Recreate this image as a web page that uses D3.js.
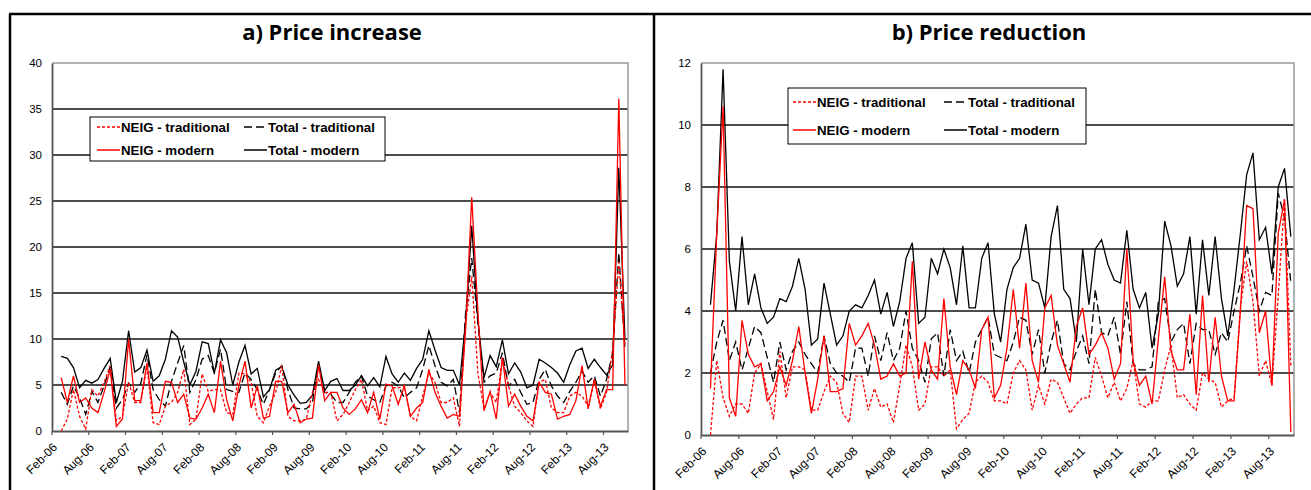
<!DOCTYPE html>
<html><head><meta charset="utf-8">
<script src="https://cdn.jsdelivr.net/npm/d3@7"></script>
<style>
html,body{margin:0;padding:0;background:#fff;}
svg{display:block;}
</style></head>
<body>
<svg id="chart" width="1311" height="490"></svg>
<script>
// ---- Data ----
const startMonth = new Date(2006, 1, 1);   // Feb-06
const endMonth = new Date(2013, 10, 1);    // Nov-13
const categories = d3.timeMonth.range(startMonth, d3.timeMonth.offset(endMonth, 1)).map(d3.timeFormat("%b-%y"));
const tickLabels = ["Feb-06","Aug-06","Feb-07","Aug-07","Feb-08","Aug-08","Feb-09","Aug-09","Feb-10","Aug-10","Feb-11","Aug-11","Feb-12","Aug-12","Feb-13","Aug-13"];
const seriesNames = ["NEIG - traditional","Total - traditional","NEIG - modern","Total - modern"];
const incTicks = [0,5,10,15,20,25,30,35,40];
const redTicks = [0,2,4,6,8,10,12];

// a) Price increase (first month, Feb-06, has no value)
const incNeigTrad = [null,0.0,1.3,4.5,1.6,0.2,4.5,3.8,5.3,7.1,1.1,1.6,5.3,3.1,3.1,7.1,0.9,0.7,2.7,3.1,4.2,6.7,0.7,1.3,6.2,4.3,4.5,4.5,2.0,1.8,6.3,6.2,5.3,1.6,0.9,2.7,4.2,7.1,1.6,1.1,1.1,1.3,4.2,5.6,4.2,4.2,1.1,1.8,3.1,4.5,5.6,2.2,2.7,0.9,0.7,4.7,4.7,4.9,1.6,1.1,3.8,6.3,5.3,3.1,3.1,3.6,0.5,11.8,16.8,6.3,2.4,4.2,3.1,7.8,4.9,2.7,2.0,1.1,0.5,5.3,5.6,2.5,2.0,2.0,3.8,4.2,3.8,2.7,5.6,2.4,4.2,8.9,18.3,9.2];
const incTotalTrad = [null,4.2,2.9,4.9,3.6,1.8,4.3,3.1,4.9,7.0,2.5,3.4,5.2,4.2,5.2,8.3,4.5,3.4,2.7,5.4,7.4,9.3,4.2,5.6,7.8,8.2,6.3,8.9,4.5,4.3,4.2,6.3,5.6,4.5,2.9,4.5,6.3,7.1,4.5,2.5,2.4,2.4,3.1,7.2,4.2,4.0,3.1,3.1,4.2,5.3,6.0,3.8,3.4,3.1,4.9,5.3,4.9,3.6,4.2,4.7,6.7,9.3,7.1,5.3,4.9,5.6,2.0,12.9,18.8,11.8,5.3,6.0,6.3,8.5,4.9,5.6,4.2,2.9,3.1,5.6,6.7,4.9,3.8,3.1,4.3,5.3,6.5,5.3,6.0,3.8,5.6,8.5,19.4,8.9];
const incNeigModern = [null,5.8,3.1,6.0,3.1,3.6,2.5,2.0,4.2,6.7,0.5,1.3,10.0,3.3,3.3,7.4,2.0,2.0,5.4,5.3,3.1,4.0,1.4,1.3,2.5,4.0,2.0,7.6,3.4,1.1,4.9,7.6,2.5,4.9,1.4,1.6,5.4,5.4,2.0,2.9,0.9,1.3,1.4,7.2,3.3,4.2,4.2,2.5,1.8,2.4,3.4,2.0,4.2,1.3,5.1,4.9,2.9,4.9,1.6,2.5,3.1,6.7,4.2,2.7,1.4,1.8,1.6,11.0,25.4,13.0,2.2,4.3,1.3,8.0,2.7,4.0,2.7,1.6,1.1,5.3,4.2,4.0,1.3,1.6,1.8,3.3,7.1,2.4,5.6,2.7,4.5,4.5,36.1,5.0];
const incTotalModern = [null,8.1,7.9,6.9,4.7,5.5,5.2,5.6,6.8,7.9,3.1,5.4,10.9,6.4,6.9,8.8,5.4,6.0,7.8,10.9,10.2,7.5,5.0,6.5,9.7,9.5,6.3,9.9,8.5,5.0,7.5,9.3,6.2,6.8,3.7,4.5,6.6,7.0,5.0,3.9,3.0,3.1,3.9,7.6,4.4,5.4,5.7,4.4,4.4,5.0,6.0,4.9,5.8,4.8,8.1,6.2,5.3,6.3,5.5,6.8,7.8,10.9,8.8,6.9,6.6,6.6,5.0,12.0,22.3,12.0,5.8,8.2,7.0,9.9,6.2,7.4,6.4,4.7,5.0,7.8,7.4,6.9,6.3,5.3,7.2,8.7,9.0,6.8,7.8,6.9,6.1,7.2,28.6,10.0];

// b) Price reduction
const redNeigTrad = [null,0.0,2.4,1.2,0.6,1.0,1.0,0.7,2.0,2.3,1.4,0.5,2.7,1.2,2.2,2.2,2.1,0.8,0.8,1.4,1.9,1.7,0.7,0.4,1.9,1.9,0.8,1.5,0.9,1.0,0.4,1.6,2.9,2.2,0.8,1.0,2.2,2.2,1.9,2.1,0.2,0.5,0.7,1.7,1.9,1.7,1.1,1.1,1.0,2.0,2.4,2.1,0.8,1.6,1.0,1.8,1.7,1.2,0.7,1.0,1.2,1.2,2.5,1.9,1.2,1.7,1.1,1.5,2.4,1.0,0.9,1.1,1.1,2.1,2.9,1.2,1.3,1.0,0.8,2.0,1.8,1.7,0.9,1.1,1.2,4.1,5.6,4.3,1.9,2.4,1.6,4.5,7.6,2.2];
const redTotalTrad = [null,2.0,3.0,3.7,2.4,3.0,2.1,2.8,3.5,3.3,2.5,1.7,3.0,2.1,2.7,3.0,2.6,2.3,2.0,3.2,2.3,2.0,1.9,1.7,2.8,2.8,1.9,3.2,2.4,3.3,2.4,2.8,4.0,2.8,2.4,1.7,3.1,3.3,1.9,3.4,2.4,2.7,2.0,3.0,3.4,3.8,2.6,2.5,2.4,3.0,3.8,3.7,2.6,3.4,2.0,3.0,3.7,2.3,2.1,2.7,3.2,2.3,4.7,3.3,3.2,3.8,2.6,4.3,2.3,2.1,2.1,2.2,4.3,4.4,3.0,3.4,3.6,2.3,3.6,3.4,3.4,2.6,3.3,3.0,4.0,4.9,6.1,5.1,4.0,4.6,4.5,7.8,7.0,4.9];
const redNeigModern = [null,1.5,6.5,10.6,1.2,0.6,3.7,2.6,2.2,2.3,1.1,1.4,2.2,1.6,2.4,3.5,2.0,0.7,1.8,3.2,1.4,1.4,1.5,3.6,2.9,3.2,3.6,2.9,1.8,1.9,2.3,1.9,2.0,5.6,1.8,3.0,2.1,1.8,4.4,2.2,1.3,2.4,2.1,1.5,3.4,3.8,1.2,1.6,2.8,4.7,2.8,4.9,2.4,1.7,4.1,4.5,2.9,2.3,1.7,3.5,4.1,2.6,2.9,3.3,2.8,1.8,2.3,6.0,2.4,1.6,1.9,1.0,3.1,5.1,2.7,2.1,2.1,3.9,1.3,4.5,1.7,3.8,1.9,1.1,1.1,4.0,7.4,7.3,3.3,4.0,1.6,6.5,7.6,0.1];
const redTotalModern = [null,4.2,6.5,11.8,5.6,4.0,6.4,4.2,5.2,4.1,3.6,3.8,4.4,4.3,4.8,5.7,4.7,2.9,3.1,4.9,3.9,2.9,3.2,4.0,4.2,4.1,4.5,5.0,3.9,4.6,3.5,4.3,5.7,6.2,3.6,3.8,5.7,5.2,6.0,5.4,4.2,6.1,4.1,4.1,5.7,6.2,3.9,3.0,4.7,5.4,5.7,6.8,5.0,4.9,4.1,6.4,7.4,4.7,4.4,3.0,6.0,4.2,6.0,6.3,5.5,5.0,4.9,6.6,4.7,4.1,4.6,2.8,3.9,6.9,6.1,4.8,5.2,6.4,3.9,6.3,4.5,6.4,4.4,3.2,4.7,6.5,8.4,9.1,6.3,6.7,5.2,8.0,8.6,6.4];

// ---- Drawing ----
const svg = d3.select("#chart");
svg.append("rect").attr("width",1311).attr("height",490).attr("fill","#fff");

// outer frame
const frame = svg.append("g").attr("stroke","#000").attr("stroke-width",2.5).attr("fill","none");
frame.append("line").attr("x1",9).attr("x2",1311).attr("y1",14).attr("y2",14);
frame.append("line").attr("x1",10).attr("x2",10).attr("y1",14).attr("y2",490);
frame.append("line").attr("x1",654).attr("x2",654).attr("y1",14).attr("y2",490);

const styles = [
  {color:"#ff0000", dash:"3,2"},
  {color:"#000000", dash:"8,4"},
  {color:"#ff0000", dash:null},
  {color:"#000000", dash:null}
];

const panels = [
  {title:"a) Price increase", titleX:332, x0:52, x1:628, y0:63, y1:431, ticks:incTicks,
   series:[incNeigTrad,incTotalTrad,incNeigModern,incTotalModern],
   legend:{x:90,y:117,w:295,h:44,row1:127,row2:150,c1:97,c2:244}},
  {title:"b) Price reduction", titleX:989, x0:701, x1:1294, y0:63, y1:435, ticks:redTicks,
   series:[redNeigTrad,redTotalTrad,redNeigModern,redTotalModern],
   legend:{x:788,y:88,w:298,h:56,row1:102,row2:130,c1:793,c2:944}}
];

panels.forEach(p => {
  const g = svg.append("g");
  const x = d3.scaleBand().domain(categories).range([p.x0,p.x1]).padding(0);
  const y = d3.scaleLinear().domain([0, d3.max(p.ticks)]).range([p.y1,p.y0]);
  const cx = c => x(c) + x.bandwidth()/2;

  g.append("text").attr("x",p.titleX).attr("y",40).attr("text-anchor","middle")
    .attr("font-family","'Open Sans', Lato, sans-serif").attr("font-weight","bold")
    .attr("font-size",22).attr("fill","#000").text(p.title);

  // grid lines
  g.selectAll(".grid").data(p.ticks.filter(t => t>0 && t<d3.max(p.ticks))).join("line")
    .attr("x1",p.x0).attr("x2",p.x1).attr("y1",d=>y(d)).attr("y2",d=>y(d))
    .attr("stroke","#111").attr("stroke-width",1.3);

  // plot border (top/right grey)
  g.append("path").attr("d",`M${p.x0},${p.y0}H${p.x1}V${p.y1}`)
    .attr("fill","none").attr("stroke","#999").attr("stroke-width",1.5);

  // y axis
  const ya = g.append("g").attr("transform",`translate(${p.x0},0)`)
    .call(d3.axisLeft(y).tickValues(p.ticks).tickSize(0).tickPadding(10));
  ya.select(".domain").attr("stroke","#555").attr("stroke-width",1.8);
  ya.selectAll("text").attr("font-family","'Liberation Sans', Arial, sans-serif").attr("font-size",11.5).attr("fill","#000");

  // x axis
  const xa = g.append("g").attr("transform",`translate(0,${p.y1})`)
    .call(d3.axisBottom(x).tickValues(tickLabels).tickSize(0).tickFormat(""));
  xa.select(".domain").attr("stroke","#555").attr("stroke-width",1.8);
  g.selectAll(".xtick").data(tickLabels).join("line")
    .attr("x1",d=>x(d)).attr("x2",d=>x(d)).attr("y1",p.y1).attr("y2",p.y1+4)
    .attr("stroke","#555").attr("stroke-width",1.2);
  g.selectAll(".xlab").data(tickLabels).join("text")
    .attr("transform",d=>`translate(${cx(d)+3},${p.y1+17}) rotate(-45)`)
    .attr("text-anchor","end")
    .attr("font-family","'Liberation Sans', Arial, sans-serif").attr("font-size",12).attr("fill","#000")
    .text(d=>d);

  // series lines: black first then red on top
  const order = [1,3,0,2];
  order.forEach(i => {
    const vals = p.series[i];
    const line = d3.line().defined(d => d.v != null).x(d => cx(d.c)).y(d => y(d.v));
    g.append("path").datum(categories.map((c,j)=>({c, v: vals[j]})))
      .attr("d",line).attr("fill","none").attr("stroke",styles[i].color)
      .attr("stroke-width",1.3).attr("stroke-dasharray",styles[i].dash)
      .attr("stroke-linejoin","miter");
  });

  // legend
  const L = p.legend;
  const lg = g.append("g");
  lg.append("rect").attr("x",L.x).attr("y",L.y).attr("width",L.w).attr("height",L.h)
    .attr("fill","#fff").attr("stroke","#000").attr("stroke-width",1);
  const pos = [[L.c1,L.row1],[L.c2,L.row1],[L.c1,L.row2],[L.c2,L.row2]];
  seriesNames.forEach((n,i) => {
    const [lx,ly] = pos[i];
    lg.append("line").attr("x1",lx).attr("x2",lx+23).attr("y1",ly).attr("y2",ly)
      .attr("stroke",styles[i].color).attr("stroke-width",1.5).attr("stroke-dasharray",styles[i].dash);
    lg.append("text").attr("x",lx+24).attr("y",ly+5)
      .attr("font-family","'Liberation Sans', Arial, sans-serif").attr("font-weight","bold")
      .attr("font-size",13.3).attr("fill","#000").text(n);
  });
});
</script>
</body></html>
